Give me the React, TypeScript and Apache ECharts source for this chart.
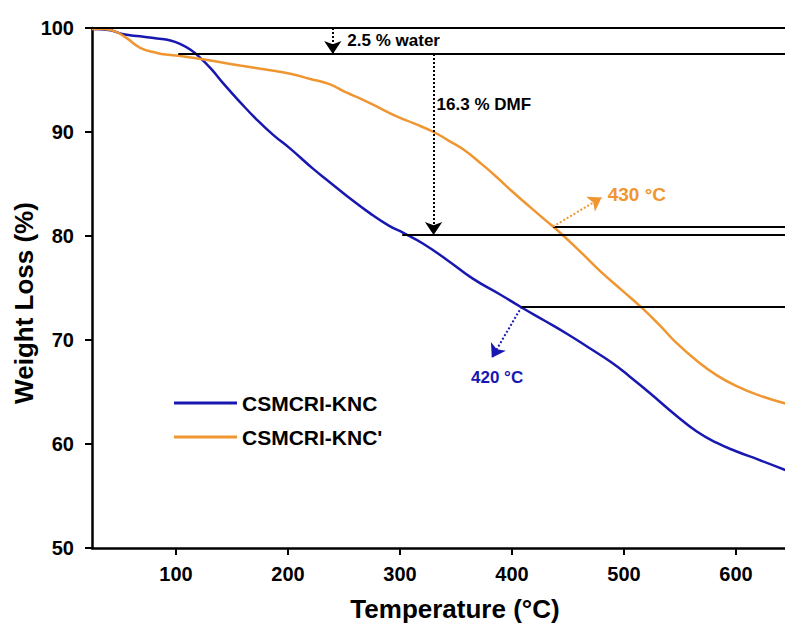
import React, { useEffect, useRef } from "react";
import * as echarts from "echarts";

const FONT = "'Liberation Sans', Arial, Helvetica, sans-serif";
const BLUE = "#1818b0";
const ORANGE = "#ef9631";

const seriesNames = ["CSMCRI-KNC", "CSMCRI-KNC'"];

// CSMCRI-KNC (blue)
const kncTemp = [25, 40, 53, 68, 83, 95, 104, 113, 121, 132, 142, 157, 172, 187, 202, 222, 237, 252, 273, 290, 303, 320, 342, 365, 389, 409, 430, 449, 468, 488, 505, 523, 547, 565, 583, 600, 620, 644];
const kncWeight = [99.9, 99.8, 99.4, 99.2, 99.0, 98.8, 98.45, 97.9, 97.2, 96.0, 94.7, 92.9, 91.2, 89.7, 88.4, 86.5, 85.2, 83.9, 82.2, 81.0, 80.3, 79.3, 77.7, 75.9, 74.4, 73.1, 71.8, 70.6, 69.3, 67.9, 66.5, 64.9, 62.7, 61.2, 60.1, 59.3, 58.5, 57.5];

// CSMCRI-KNC' (orange)
const kncpTemp = [25, 35, 45, 55, 68, 83, 95, 104, 115, 124, 140, 157, 180, 202, 220, 237, 252, 267, 282, 297, 313, 330, 343, 357, 372, 386, 400, 416, 430, 440, 460, 479, 498, 517, 532, 547, 565, 583, 600, 620, 644];
const kncpWeight = [99.9, 99.9, 99.7, 99.1, 98.1, 97.6, 97.4, 97.3, 97.15, 97.0, 96.7, 96.4, 96.0, 95.6, 95.1, 94.6, 93.8, 93.1, 92.3, 91.5, 90.8, 90.0, 89.2, 88.3, 87.0, 85.7, 84.3, 82.8, 81.5, 80.6, 78.6, 76.6, 74.8, 73.0, 71.4, 69.7, 68.0, 66.6, 65.6, 64.7, 63.9];

const xTicks = [100, 200, 300, 400, 500, 600];
const xMin = 25;
const xMax = 643.75;

// annotation levels (weight %, temperature °C)
const topLevel = 100;
const waterLevel = 97.5;
const dmfLevel = 80.1;
const kncpOnset = { temp: 436.6, level: 80.9 };
const kncOnset = { temp: 408.6, level: 73.2 };
const waterArrowTemp = 240;
const dmfArrowTemp = 330;
const waterLineStart = 102;
const dmfLineStart = 302;

export default function App() {
  const ref = useRef<HTMLDivElement>(null);
  useEffect(() => {
    document.body.style.margin = "0";
    if (!ref.current) return;
    const chart = echarts.init(ref.current, undefined, { renderer: "svg" });

    const solid = (a: number[], b: number[]) => [
      { coord: a, symbol: "none" },
      { coord: b, symbol: "none", lineStyle: { color: "#000", width: 2, type: "solid" } },
    ];
    const arrow = (a: number[], b: number[], color: string) => [
      { coord: a, symbol: "none" },
      {
        coord: b,
        symbol: "arrow",
        symbolSize: 13,
        itemStyle: { color },
        lineStyle: { color, width: 2, type: [2, 2] },
      },
    ];

    const option: any = {
      animation: false,
      grid: { left: 92, right: 0, top: 28, bottom: 77 },
      xAxis: {
        type: "value",
        min: xMin,
        max: xMax,
        axisLine: { show: true, onZero: false, lineStyle: { color: "#000", width: 2.5 } },
        axisTick: { show: true, customValues: xTicks, length: 7, lineStyle: { color: "#000", width: 2 } },
        axisLabel: {
          customValues: xTicks,
          margin: 16,
          color: "#000",
          fontSize: 20,
          fontWeight: "bold",
          fontFamily: FONT,
        },
        splitLine: { show: false },
      },
      yAxis: {
        type: "value",
        min: 50,
        max: 100,
        interval: 10,
        axisLine: { show: true, lineStyle: { color: "#000", width: 2.5 } },
        axisTick: { show: true, length: 7, lineStyle: { color: "#000", width: 2 } },
        axisLabel: {
          margin: 18,
          color: "#000",
          fontSize: 20,
          fontWeight: "bold",
          fontFamily: FONT,
        },
        splitLine: { show: false },
      },
      legend: {
        orient: "vertical",
        left: 169,
        top: 386,
        icon: "rect",
        itemWidth: 63,
        itemHeight: 3,
        itemGap: 10,
        textStyle: { fontSize: 21, fontWeight: "bold", fontFamily: FONT, color: "#000", lineHeight: 24 },
        data: seriesNames,
      },
      series: [
        {
          name: seriesNames[0],
          type: "line",
          smooth: 0.5,
          showSymbol: false,
          color: BLUE,
          lineStyle: { color: BLUE, width: 2.5 },
          data: kncTemp.map((t, i) => [t, kncWeight[i]]),
          z: 3,
          markLine: {
            silent: true,
            animation: false,
            symbol: ["none", "none"],
            label: { show: false },
            lineStyle: { color: "#000", width: 2, type: "solid" },
            data: [
              solid([xMin, topLevel], [xMax, topLevel]),
              solid([waterLineStart, waterLevel], [xMax, waterLevel]),
              solid([dmfLineStart, dmfLevel], [xMax, dmfLevel]),
              solid([kncpOnset.temp, kncpOnset.level], [xMax, kncpOnset.level]),
              solid([kncOnset.temp, kncOnset.level], [xMax, kncOnset.level]),
              arrow([waterArrowTemp, topLevel], [waterArrowTemp, waterLevel], "#000"),
              arrow([dmfArrowTemp, waterLevel], [dmfArrowTemp, dmfLevel], "#000"),
              arrow([kncpOnset.temp, kncpOnset.level], [480, 83.7], ORANGE),
              arrow([kncOnset.temp, kncOnset.level], [382, 68.3], BLUE),
            ],
          },
        },
        {
          name: seriesNames[1],
          type: "line",
          smooth: 0.5,
          showSymbol: false,
          color: ORANGE,
          lineStyle: { color: ORANGE, width: 2.5 },
          data: kncpTemp.map((t, i) => [t, kncpWeight[i]]),
          z: 4,
        },
      ],
    };
    chart.setOption(option);

    const px = (t: number, w: number) => chart.convertToPixel({ gridIndex: 0 }, [t, w]) as number[];
    const txt = (t: number, w: number, text: string, size: number, color: string) => {
      const p = px(t, w);
      return {
        type: "text",
        x: p[0],
        y: p[1],
        silent: true,
        style: { text, fill: color, fontSize: size, fontWeight: "bold", fontFamily: FONT, align: "left", verticalAlign: "middle" },
      };
    };

    chart.setOption({
      graphic: [
        txt(253, 98.78, "2.5 % water", 17, "#000"),
        txt(332.7, 92.6, "16.3 % DMF", 17, "#000"),
        txt(485.4, 84.0, "430 °C", 19, ORANGE),
        txt(363.4, 66.4, "420 °C", 17, BLUE),
        {
          type: "text",
          x: 455,
          y: 609,
          silent: true,
          style: { text: "Temperature (°C)", fill: "#000", fontSize: 26, fontWeight: "bold", fontFamily: FONT, align: "center", verticalAlign: "middle" },
        },
        {
          type: "text",
          x: 24,
          y: 303,
          rotation: Math.PI / 2,
          silent: true,
          style: { text: "Weight Loss (%)", fill: "#000", fontSize: 26, fontWeight: "bold", fontFamily: FONT, align: "center", verticalAlign: "middle" },
        },
      ],
    });

    return () => chart.dispose();
  }, []);
  return <div ref={ref} style={{ width: 785, height: 625 }} />;
}
